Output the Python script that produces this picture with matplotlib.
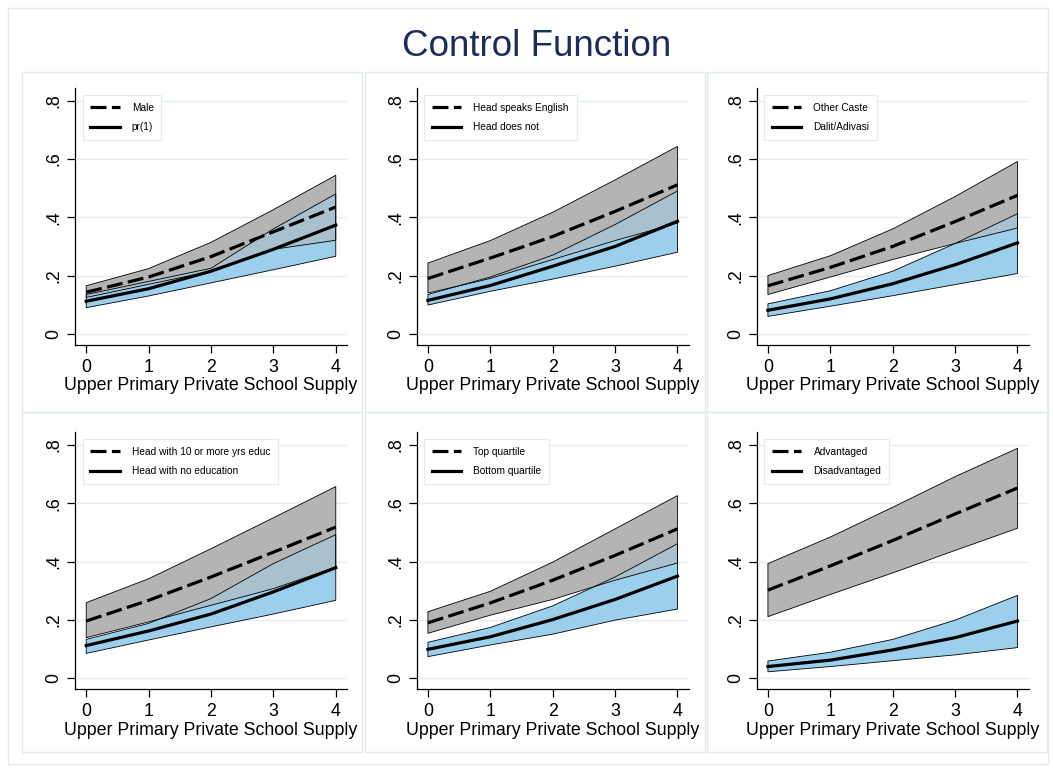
import numpy as np
import matplotlib.pyplot as plt
from matplotlib.patches import Rectangle

plt.rcParams['font.family'] = ['Liberation Sans', 'DejaVu Sans']

supply = [0, 1, 2, 3, 4]

# panel 1: gender
male = [0.143, 0.195, 0.265, 0.350, 0.435]
male_lo = [0.125, 0.170, 0.215, 0.290, 0.321]
male_hi = [0.165, 0.224, 0.314, 0.426, 0.544]
pr1 = [0.112, 0.155, 0.215, 0.290, 0.373]
pr1_lo = [0.090, 0.130, 0.175, 0.220, 0.266]
pr1_hi = [0.135, 0.180, 0.225, 0.360, 0.480]

# panel 2: head speaks english
eng = [0.190, 0.260, 0.334, 0.420, 0.511]
eng_lo = [0.140, 0.190, 0.255, 0.320, 0.380]
eng_hi = [0.243, 0.320, 0.417, 0.528, 0.643]
noeng = [0.115, 0.166, 0.232, 0.300, 0.386]
noeng_lo = [0.099, 0.146, 0.188, 0.232, 0.280]
noeng_hi = [0.135, 0.195, 0.270, 0.375, 0.490]

# panel 3: caste
other = [0.165, 0.228, 0.300, 0.385, 0.475]
other_lo = [0.135, 0.195, 0.255, 0.310, 0.363]
other_hi = [0.200, 0.268, 0.360, 0.471, 0.591]
dalit = [0.081, 0.120, 0.172, 0.237, 0.312]
dalit_lo = [0.060, 0.095, 0.131, 0.169, 0.207]
dalit_hi = [0.103, 0.148, 0.215, 0.310, 0.412]

# panel 4: head education
edu10 = [0.196, 0.267, 0.347, 0.432, 0.518]
edu10_lo = [0.139, 0.193, 0.250, 0.307, 0.381]
edu10_hi = [0.259, 0.341, 0.444, 0.550, 0.657]
noedu = [0.112, 0.162, 0.220, 0.296, 0.379]
noedu_lo = [0.085, 0.131, 0.176, 0.220, 0.267]
noedu_hi = [0.133, 0.188, 0.273, 0.393, 0.492]

# panel 5: wealth quartile
topq = [0.190, 0.258, 0.336, 0.421, 0.512]
topq_lo = [0.154, 0.216, 0.270, 0.336, 0.395]
topq_hi = [0.228, 0.298, 0.398, 0.512, 0.626]
botq = [0.099, 0.142, 0.201, 0.270, 0.350]
botq_lo = [0.074, 0.114, 0.151, 0.199, 0.237]
botq_hi = [0.123, 0.174, 0.248, 0.347, 0.461]

# panel 6: advantaged vs disadvantaged
adv = [0.302, 0.385, 0.472, 0.563, 0.652]
adv_lo = [0.211, 0.287, 0.361, 0.438, 0.514]
adv_hi = [0.393, 0.484, 0.586, 0.691, 0.788]
dis = [0.040, 0.062, 0.097, 0.139, 0.196]
dis_lo = [0.022, 0.040, 0.060, 0.080, 0.105]
dis_hi = [0.059, 0.089, 0.133, 0.199, 0.284]

labels = [("Male", "pr(1)"),
          ("Head speaks English", "Head does not"),
          ("Other Caste", "Dalit/Adivasi"),
          ("Head with 10 or more yrs educ", "Head with no education"),
          ("Top quartile", "Bottom quartile"),
          ("Advantaged", "Disadvantaged")]

panels = [(male, male_lo, male_hi, pr1, pr1_lo, pr1_hi),
          (eng, eng_lo, eng_hi, noeng, noeng_lo, noeng_hi),
          (other, other_lo, other_hi, dalit, dalit_lo, dalit_hi),
          (edu10, edu10_lo, edu10_hi, noedu, noedu_lo, noedu_hi),
          (topq, topq_lo, topq_hi, botq, botq_lo, botq_hi),
          (adv, adv_lo, adv_hi, dis, dis_lo, dis_hi)]

W, H = 1053, 768
fig = plt.figure(figsize=(W / 100, H / 100), dpi=100)
fig.patch.set_facecolor('white')

border = '#e2ebef'
# outer frame and panel frames
fig.add_artist(Rectangle((8 / W, 1 - 764 / H), 1040 / W, 756 / H, transform=fig.transFigure,
                         fill=False, edgecolor=border, lw=1))
col_x = [22, 365, 707]
row_y = [72, 412]
for r in row_y:
    for c in col_x:
        fig.add_artist(Rectangle((c / W, 1 - (r + 340) / H), 340 / W, 340 / H,
                                 transform=fig.transFigure, fill=False, edgecolor=border, lw=1))

fig.text(537 / W, 1 - 46 / H, "Control Function", ha='center', va='center',
         fontsize=26.5, color='#1c2c5c')

ax_left = [75, 416.7, 756.7]
ax_bottom = [345, 689.3]
aw, ah = 272, 257

blue = '#9ccfeb'
gray = '#b4b4b4'
overlap = '#a9c0ce'

for i, (hi_m, hi_lo, hi_hi, lo_m, lo_lo, lo_hi) in enumerate(panels):
    r, c = divmod(i, 3)
    ax = fig.add_axes([ax_left[c] / W, 1 - ax_bottom[r] / H, aw / W, ah / H])
    ax.set_facecolor('white')

    bfill = ax.fill_between(supply, lo_lo, lo_hi, facecolor=blue, lw=0, zorder=2)
    ax.fill_between(supply, hi_lo, hi_hi, facecolor=gray, lw=0, zorder=3)
    # where the two bands overlap stata shows a mixed colour
    ofill = ax.fill_between(supply, hi_lo, hi_hi, facecolor=overlap, lw=0, zorder=3.5)
    ofill.set_clip_path(bfill.get_paths()[0], ax.transData)
    ax.fill_between(supply, lo_lo, lo_hi, facecolor='none', edgecolor='black', lw=0.6, zorder=3.6)
    ax.fill_between(supply, hi_lo, hi_hi, facecolor='none', edgecolor='black', lw=0.6, zorder=3.6)

    l1, = ax.plot(supply, hi_m, color='black', lw=2.3, zorder=4)
    l1.set_dashes([5, 1.7])
    l2, = ax.plot(supply, lo_m, color='black', lw=2.3, zorder=4)

    ax.set_xlim(-0.18, 4.18)
    ax.set_ylim(-0.038, 0.843)
    ax.set_xticks(supply)
    ax.set_yticks([0, 0.2, 0.4, 0.6, 0.8])
    ax.set_yticklabels(['0', '.2', '.4', '.6', '.8'], rotation=90, va='center')
    ax.tick_params(labelsize=12.8, length=6, width=0.9, direction='out', pad=4)
    ax.tick_params(axis='y', pad=3)
    ax.grid(axis='y', color='#e3ecf0', lw=1)
    ax.set_axisbelow(True)
    for s in ['top', 'right']:
        ax.spines[s].set_visible(False)
    for s in ['left', 'bottom']:
        ax.spines[s].set_linewidth(0.9)
    ax.set_xlabel("Upper Primary Private School Supply", fontsize=12.8, labelpad=1)

    leg = ax.legend([l1, l2], labels[i], loc='upper left', fontsize=7.3, handlelength=2.9,
                    labelspacing=0.95, borderpad=0.75, handletextpad=1.2, fancybox=False,
                    framealpha=1, edgecolor=border, bbox_to_anchor=(0.028, 0.973),
                    borderaxespad=0)
    leg.get_frame().set_linewidth(0.8)

fig.savefig('out.png', dpi=100, facecolor='white')
